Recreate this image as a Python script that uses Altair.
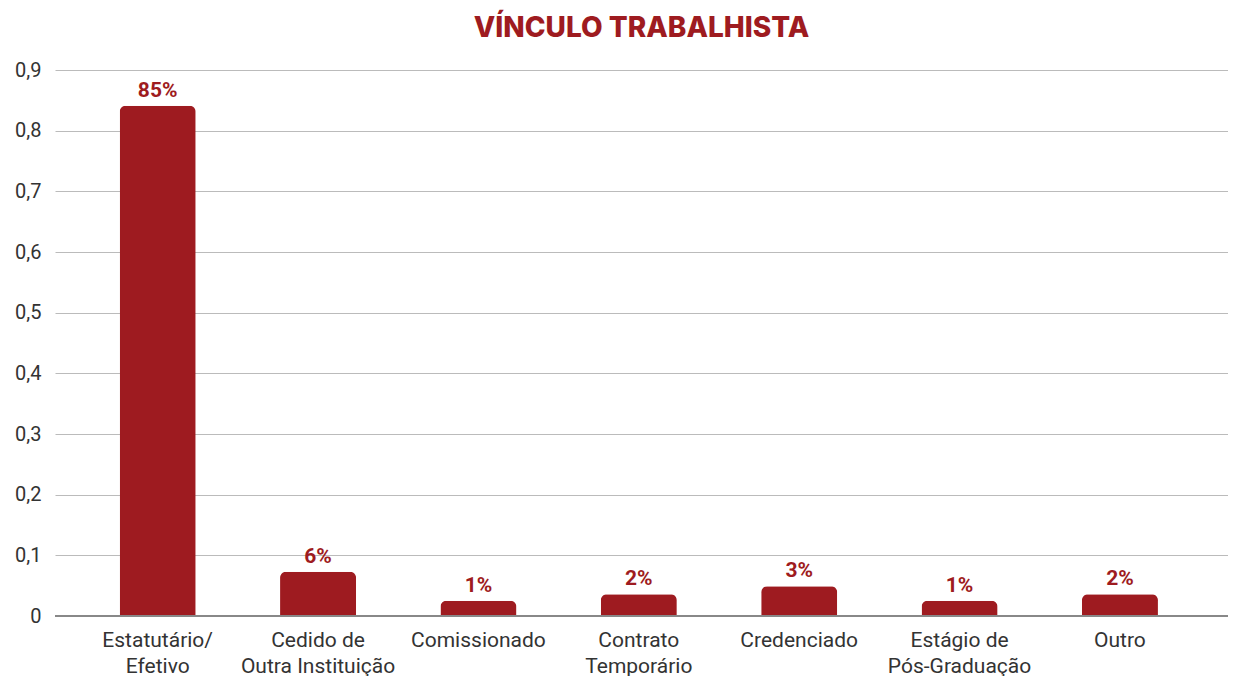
import altair as alt
import pandas as pd

categories = ["Estatutário/|Efetivo", "Cedido de|Outra Instituição", "Comissionado",
              "Contrato|Temporário", "Credenciado", "Estágio de|Pós-Graduação", "Outro"]
values = [0.841, 0.073, 0.025, 0.036, 0.049, 0.025, 0.036]
labels = ["85%", "6%", "1%", "2%", "3%", "1%", "2%"]

df = pd.DataFrame({"cat": categories, "val": values, "lab": labels})
RED = "#9E1B20"

x = alt.X("cat:N", sort=categories, title=None,
          scale=alt.Scale(paddingInner=0.526, paddingOuter=0.42, align=0.48),
          axis=alt.Axis(labelAngle=0, labelExpr="split(datum.label, '|')",
                        labelFont="Roboto", labelFontSize=21, labelColor="#333333",
                        labelLineHeight=26, labelPadding=13, ticks=False, domain=False,
                        labelBaseline="top"))
y = alt.Y("val:Q", title=None,
          scale=alt.Scale(domain=[0, 0.9], nice=False),
          axis=alt.Axis(values=[0, 0.1, 0.2, 0.3, 0.4, 0.5, 0.6, 0.7, 0.8, 0.9],
                        labelExpr="datum.value == 0 ? '0' : replace(format(datum.value, '.1f'), '.', ',')",
                        labelFont="Roboto", labelFontSize=20, labelColor="#333333",
                        labelPadding=14, ticks=False, domain=False,
                        gridColor="#BBBBBB", gridWidth=1))

bars = alt.Chart(df).mark_bar(color=RED, cornerRadiusTopLeft=6, cornerRadiusTopRight=6).encode(x=x, y=y)
text = alt.Chart(df).mark_text(font="Roboto", fontWeight="bold", fontSize=21, color=RED,
                               baseline="alphabetic", dy=-9).encode(x=x, y="val:Q", text="lab:N")
zero = alt.Chart(df).mark_rule(color="#888888", strokeWidth=1.5).encode(y=alt.datum(0))

chart = alt.layer(bars, text, zero).properties(
    width=1173, height=546,
    title=alt.TitleParams("VÍNCULO TRABALHISTA", font="Inter", fontWeight=800, fontSize=28,
                          color=RED, anchor="middle", offset=17),
    autosize=alt.AutoSizeParams(type="none"),
    padding={"left": 47, "top": 62, "right": 0, "bottom": 64},
).configure_view(stroke=None)

chart.save("out.html", embed_options={"renderer": "svg", "actions": False})
